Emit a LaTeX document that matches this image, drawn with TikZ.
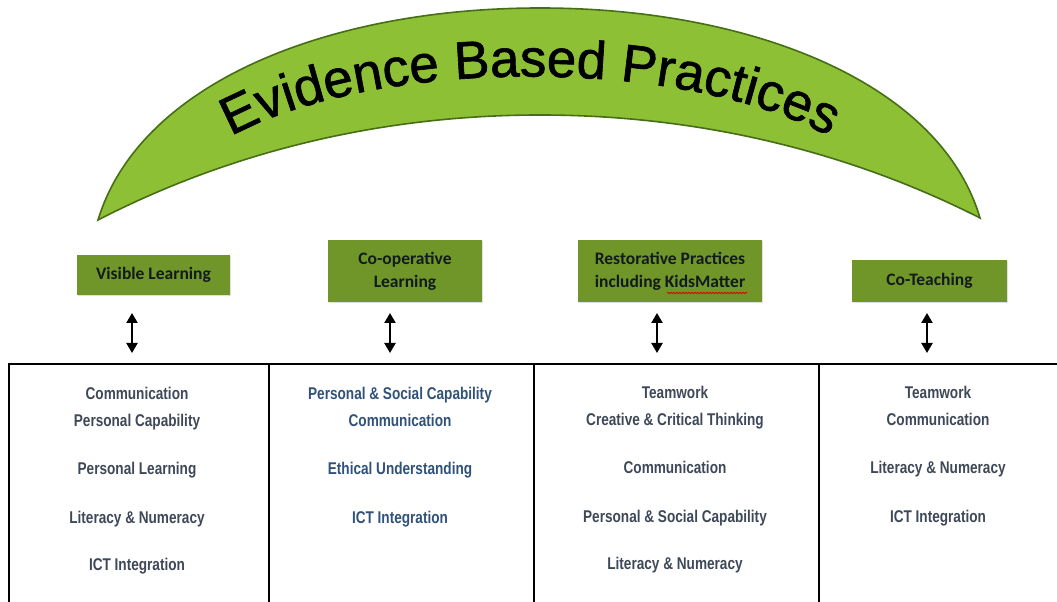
\documentclass[tikz,border=0pt]{standalone}
\usepackage{fontspec}
\usetikzlibrary{arrows.meta,decorations.text,decorations.pathmorphing,shadows}

\newfontfamily\arcfont{Liberation Sans}[FakeBold=1.2]
\newfontfamily\boxfont{Carlito}
\newfontfamily\cellfont{Liberation Sans}[FakeStretch=0.8]

\definecolor{archfill}{RGB}{141,192,52}
\definecolor{archedge}{RGB}{70,110,22}
\definecolor{boxfill}{RGB}{112,150,42}
\definecolor{boxtext}{RGB}{18,26,28}
\definecolor{slate}{RGB}{62,72,88}
\definecolor{steel}{RGB}{48,82,122}

\tikzset{
  practice/.style={fill=boxfill, draw=none, inner sep=0pt, align=center,
    text=boxtext, font=\boxfont\bfseries\fontsize{17.5}{23}\selectfont,
    drop shadow={shadow xshift=1.2pt, shadow yshift=-1.2pt, opacity=0.25}},
  biarrow/.style={line width=2.2pt,
    {Triangle[width=11pt,length=10pt]}-{Triangle[width=11pt,length=10pt]}},
  column/.style={draw=black, line width=2pt, anchor=north west,
    minimum height=260pt, inner sep=0pt},
  item/.style={anchor=base, inner sep=0pt,
    font=\cellfont\bfseries\fontsize{17}{19}\selectfont},
}

\begin{document}
\begin{tikzpicture}[x=1pt,y=1pt]
\useasboundingbox (0,0) rectangle (1057,602);
\clip (0,0) rectangle (1057,602);

% green banner arch
\path[fill=archfill, draw=archedge, line width=1.6pt]
  (98,382) .. controls (140,520) and (330,594) .. (540,594)
           .. controls (750,594) and (940,520) .. (980,384)
           .. controls (850,450) and (700,487) .. (540,487)
           .. controls (380,487) and (230,450) .. (98,382) -- cycle;

% banner title set along a curve
\path[decorate, decoration={text along path, text align=center,
    text={|\arcfont\fontsize{53}{58}\selectfont|Evidence Based Practices}}]
  (186,434) .. controls (316,556) and (744,556) .. (874,434);

% practice boxes
\node[practice, minimum width=153pt, minimum height=40pt] (vl) at (153.5,327) {Visible Learning};
\node[practice, minimum width=154pt, minimum height=62pt] (cl) at (405,331) {Co-operative\\Learning};
\node[practice, minimum width=184pt, minimum height=62pt] (rp) at (670,331) {Restorative Practices\\including KidsMatter};
\node[practice, minimum width=155pt, minimum height=42pt] (ct) at (929.5,321) {Co-Teaching};

% spelling mark under KidsMatter
\draw[red!85!black, line width=0.8pt, decorate,
  decoration={snake, amplitude=0.7pt, segment length=3pt}] (667,309) -- (747,309);

% arrow end points
\coordinate (a1t) at (132,289); \coordinate (a1b) at (132,249);
\coordinate (a2t) at (390,289); \coordinate (a2b) at (390,249);
\coordinate (a3t) at (657,289); \coordinate (a3b) at (657,249);
\coordinate (a4t) at (927,289); \coordinate (a4b) at (927,249);
\draw[biarrow] (a1t) -- (a1b);
\draw[biarrow] (a2t) -- (a2b);
\draw[biarrow] (a3t) -- (a3b);
\draw[biarrow] (a4t) -- (a4b);

% table columns
\node[column, minimum width=260pt] (c1) at (8,239) {};
\node[column, minimum width=265pt] (c2) at (268,239) {};
\node[column, minimum width=285pt] (c3) at (533,239) {};
\node[column, minimum width=260pt] (c4) at (818,239) {};

% column 1
\begin{scope}[text=slate]
\node[item] (c1r1) at (137,202) {Communication};
\node[item] (c1r2) at (137,175) {Personal Capability};
\node[item] (c1r3) at (137,127) {Personal Learning};
\node[item] (c1r4) at (137,78) {Literacy \& Numeracy};
\node[item] (c1r5) at (137,31) {ICT Integration};
\end{scope}

% column 2
\begin{scope}[text=steel]
\node[item] (c2r1) at (400,202) {Personal \& Social Capability};
\node[item] (c2r2) at (400,175) {Communication};
\node[item] (c2r3) at (400,127) {Ethical Understanding};
\node[item] (c2r4) at (400,78) {ICT Integration};
\end{scope}

% column 3
\begin{scope}[text=slate]
\node[item] (c3r1) at (675,203) {Teamwork};
\node[item] (c3r2) at (675,176) {Creative \& Critical Thinking};
\node[item] (c3r3) at (675,128) {Communication};
\node[item] (c3r4) at (675,79) {Personal \& Social Capability};
\node[item] (c3r5) at (675,32) {Literacy \& Numeracy};
\end{scope}

% column 4
\begin{scope}[text=slate]
\node[item] (c4r1) at (938,203) {Teamwork};
\node[item] (c4r2) at (938,176) {Communication};
\node[item] (c4r3) at (938,128) {Literacy \& Numeracy};
\node[item] (c4r4) at (938,79) {ICT Integration};
\end{scope}
\end{tikzpicture}
\end{document}
